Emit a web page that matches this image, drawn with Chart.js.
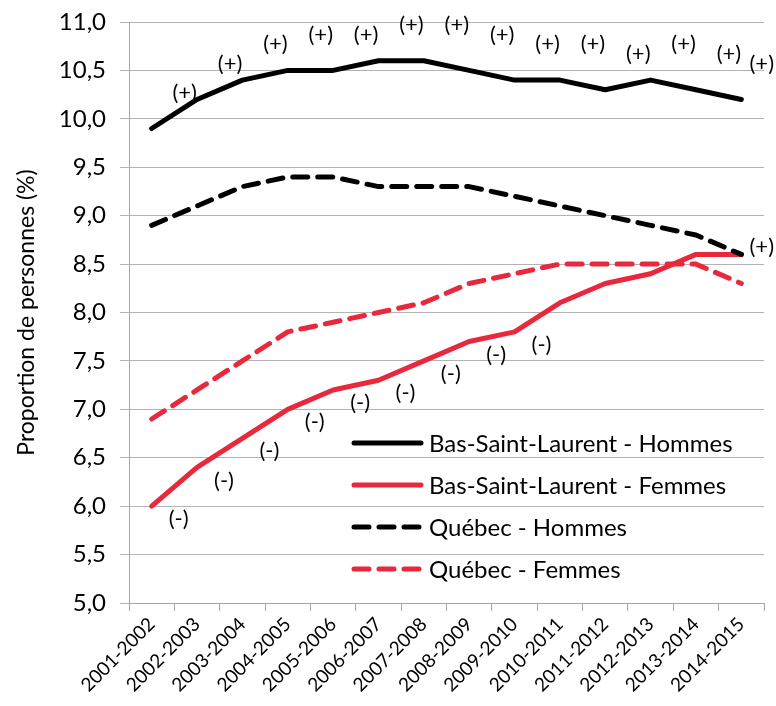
<!DOCTYPE html>
<html>
<head>
<meta charset="utf-8">
<script src="https://cdn.jsdelivr.net/npm/chart.js@4/dist/chart.umd.min.js"></script>
<style>
  html, body { margin: 0; padding: 0; background: #fff; }
  #wrap { width: 776px; height: 706px; }
</style>
</head>
<body>
<div id="wrap"><canvas id="chart" width="776" height="706"></canvas></div>
<script>
const periods = ["2001-2002", "2002-2003", "2003-2004", "2004-2005", "2005-2006", "2006-2007", "2007-2008",
  "2008-2009", "2009-2010", "2010-2011", "2011-2012", "2012-2013", "2013-2014", "2014-2015"];

const bslHommes = [9.9, 10.2, 10.4, 10.5, 10.5, 10.6, 10.6, 10.5, 10.4, 10.4, 10.3, 10.4, 10.3, 10.2];
const bslFemmes = [6.0, 6.4, 6.7, 7.0, 7.2, 7.3, 7.5, 7.7, 7.8, 8.1, 8.3, 8.4, 8.6, 8.6];
const qcHommes = [8.9, 9.1, 9.3, 9.4, 9.4, 9.3, 9.3, 9.3, 9.2, 9.1, 9.0, 8.9, 8.8, 8.6];
const qcFemmes = [6.9, 7.2, 7.5, 7.8, 7.9, 8.0, 8.1, 8.3, 8.4, 8.5, 8.5, 8.5, 8.5, 8.3];

// écarts significatifs vs Québec
const bslHommesSig = ["(+)", "(+)", "(+)", "(+)", "(+)", "(+)", "(+)", "(+)", "(+)", "(+)", "(+)", "(+)", "(+)", "(+)"];
const bslFemmesSig = ["(-)", "(-)", "(-)", "(-)", "(-)", "(-)", "(-)", "(-)", "(-)", "", "", "", "", "(+)"];

const yMin = 5, yMax = 11, yStep = 0.5;

const RED = "#E8283C";
const FONT = "Lato, 'Open Sans', sans-serif";

// petites étiquettes (+)/(-) à côté des points
const sigLabelsPlugin = {
  id: "sigLabels",
  afterDatasetsDraw(chart) {
    const { ctx } = chart;
    ctx.save();
    ctx.font = "22px " + FONT;
    ctx.fillStyle = "#000";
    ctx.textAlign = "center";
    ctx.textBaseline = "middle";
    chart.data.datasets.forEach((ds, di) => {
      if (!ds.sigLabels) return;
      const meta = chart.getDatasetMeta(di);
      ds.sigLabels.forEach((txt, i) => {
        if (!txt) return;
        const pt = meta.data[i];
        const off = ds.sigOffsets[txt];
        const w = ctx.measureText(txt).width;
        const x = Math.min(pt.x + off[0], chart.width - w / 2 - 2);
        ctx.fillText(txt, x, pt.y + off[1]);
      });
    });
    ctx.restore();
  }
};

// légende dans la zone du graphique
const innerLegendPlugin = {
  id: "innerLegend",
  afterDraw(chart) {
    const { ctx, chartArea } = chart;
    const x0 = chartArea.left + 223, y0 = chartArea.top + 421, rowH = 42, lineW = 71;
    ctx.save();
    ctx.font = "24px " + FONT;
    ctx.textBaseline = "middle";
    chart.data.datasets.forEach((ds, i) => {
      const y = y0 + i * rowH;
      ctx.strokeStyle = ds.borderColor;
      ctx.lineWidth = ds.borderWidth;
      ctx.lineCap = "round";
      ctx.setLineDash(ds.borderDash || []);
      ctx.beginPath();
      ctx.moveTo(x0 + 2, y);
      ctx.lineTo(x0 + lineW - 2, y);
      ctx.stroke();
      ctx.setLineDash([]);
      ctx.fillStyle = "#000";
      ctx.fillText(ds.label, x0 + lineW + 6, y + 1);
    });
    ctx.restore();
  }
};

const common = { pointRadius: 0, pointHoverRadius: 0, borderWidth: 5, tension: 0, fill: false,
  borderCapStyle: "round", borderJoinStyle: "round" };

new Chart(document.getElementById("chart"), {
  type: "line",
  data: {
    labels: periods,
    datasets: [
      { ...common, label: "Bas-Saint-Laurent - Hommes", data: bslHommes, borderColor: "#000", order: 4,
        sigLabels: bslHommesSig, sigOffsets: { "(+)": [33, -36] } },
      { ...common, label: "Bas-Saint-Laurent - Femmes", data: bslFemmes, borderColor: RED, order: 3,
        sigLabels: bslFemmesSig, sigOffsets: { "(-)": [27, 13], "(+)": [22, -7] } },
      { ...common, label: "Québec - Hommes", data: qcHommes, borderColor: "#000", borderDash: [15, 10], order: 2 },
      { ...common, label: "Québec - Femmes", data: qcFemmes, borderColor: RED, borderDash: [15, 10], order: 1 },
    ],
  },
  options: {
    responsive: false,
    animation: false,
    devicePixelRatio: 1,
    layout: { padding: { top: 22, right: 12, left: 0, bottom: 0 } },
    plugins: {
      legend: { display: false },
      tooltip: { enabled: false },
    },
    scales: {
      x: {
        offset: true,
        grid: { display: true, drawOnChartArea: false, offset: true, tickLength: 8, color: "#a6a6a6" },
        border: { color: "#a6a6a6", width: 1 },
        ticks: {
          autoSkip: false, minRotation: 45, maxRotation: 45, color: "#000",
          font: { family: FONT, size: 19 }, padding: 2,
        },
        afterFit: (s) => { s.height = 103; },
      },
      y: {
        min: yMin, max: yMax,
        grid: { color: "#b3b3b3", tickLength: 9 },
        border: { color: "#a6a6a6", width: 1 },
        ticks: {
          stepSize: yStep, color: "#000", padding: 14,
          font: { family: FONT, size: 24 },
          callback: (v) => v.toFixed(1).replace(".", ","),
        },
        title: {
          display: true, text: "Proportion de personnes (%)", color: "#000",
          font: { family: FONT, size: 23 }, padding: { top: 13, bottom: 0 },
        },
        afterFit: (s) => { s.width = 129; s.paddingTop = 0; s.paddingBottom = 0; },
      },
    },
  },
  plugins: [sigLabelsPlugin, innerLegendPlugin],
});
</script>
</body>
</html>
